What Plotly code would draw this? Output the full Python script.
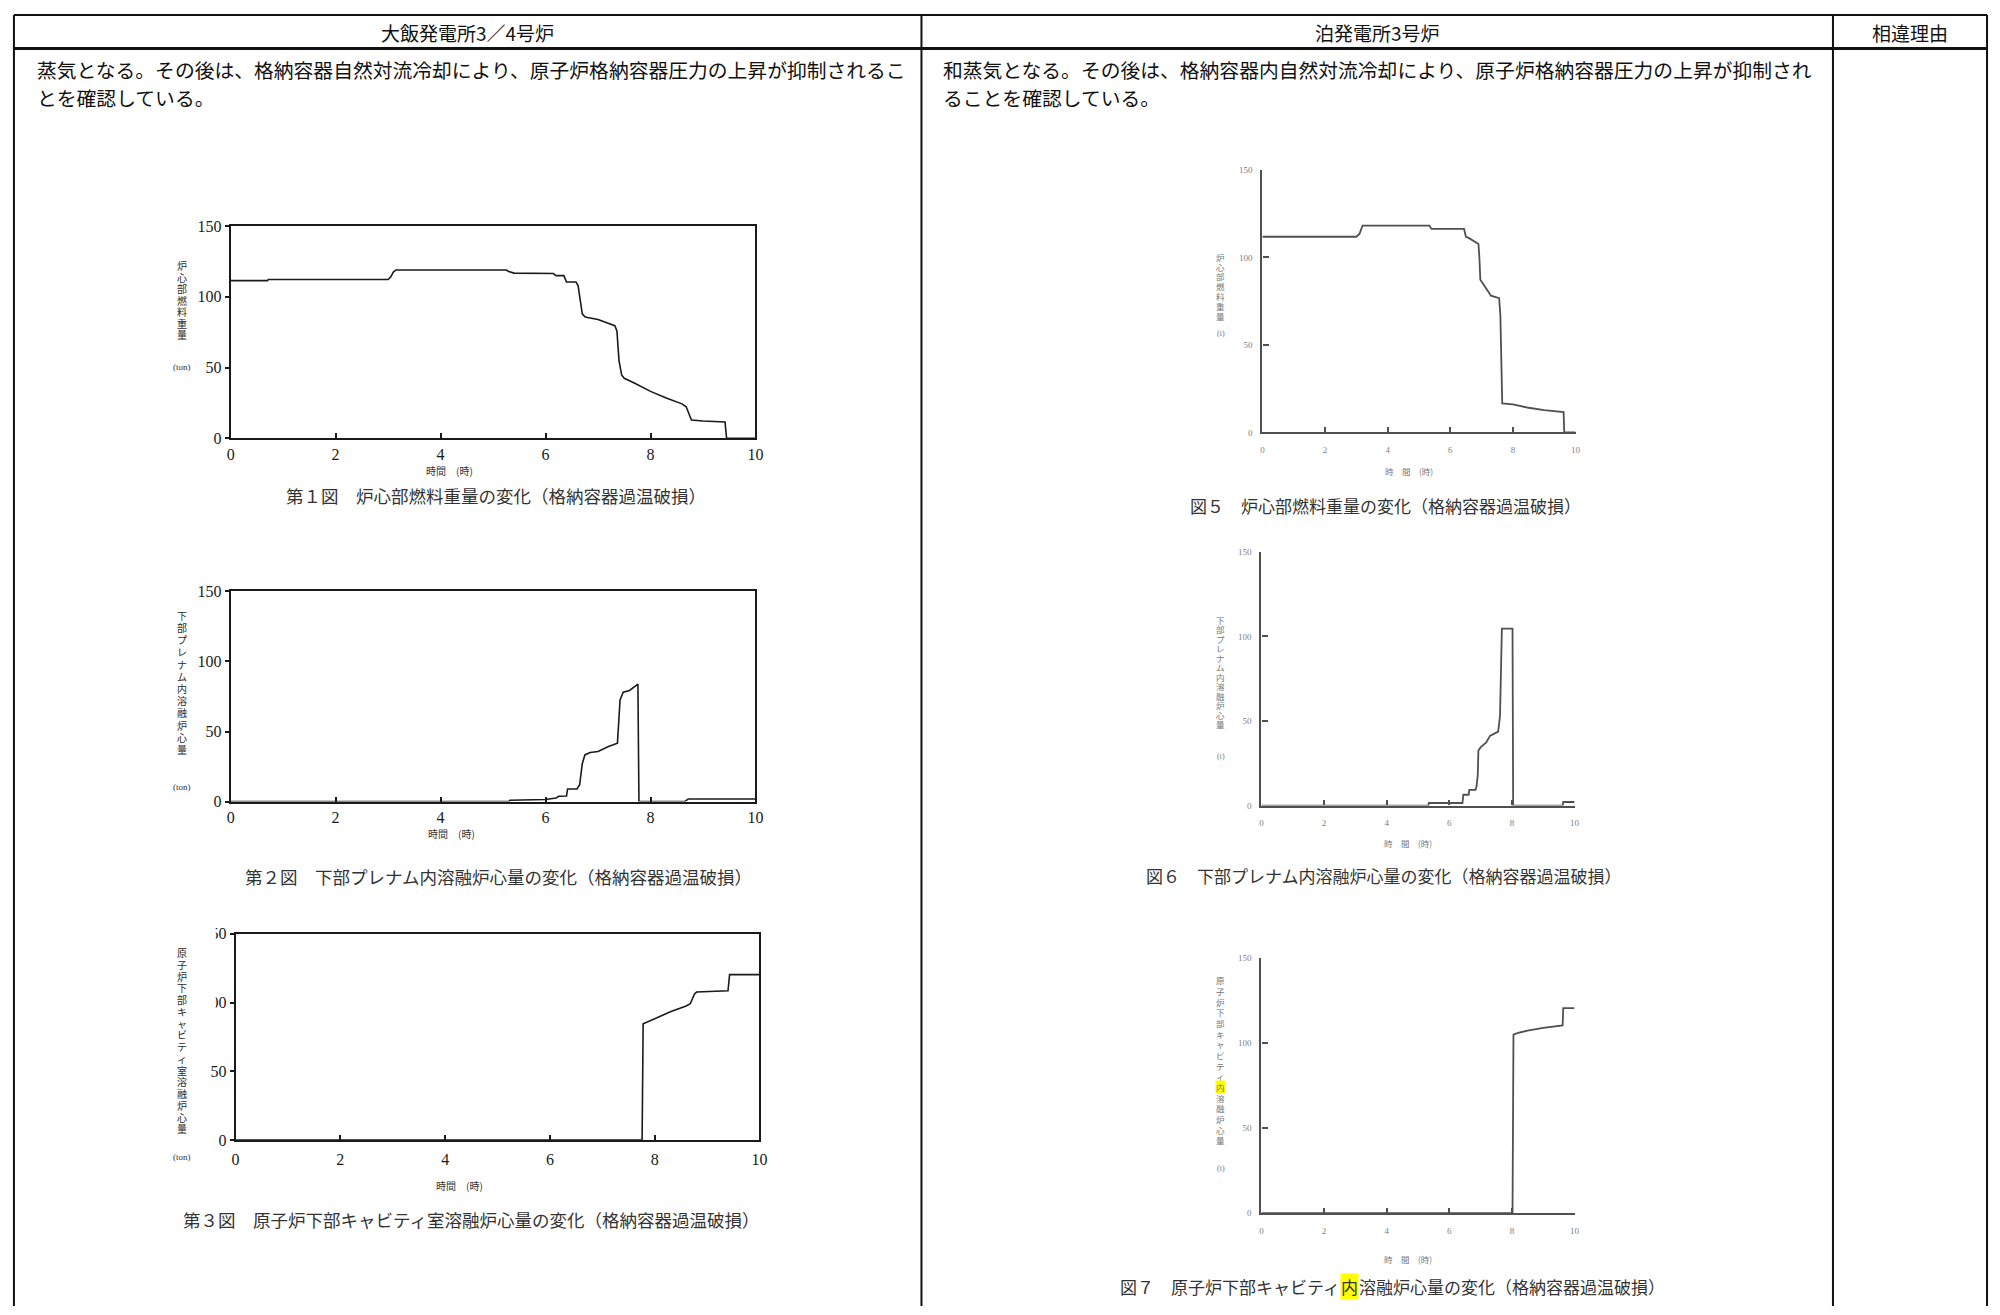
import plotly.graph_objects as go

W, H = 2000, 1315
JP = "Noto Sans CJK JP"
SERIF = "Liberation Serif"

# ---------------- data ----------------
# 大飯発電所3／4号炉  第1図 炉心部燃料重量 (ton)
ohi_core_t = [0, 0.7, 0.72, 3.0, 3.05, 3.1, 3.15, 5.25, 5.3, 5.4, 6.15, 6.2, 6.35, 6.4, 6.58,
              6.62, 6.66, 6.7, 6.75, 6.8, 7.0, 7.2, 7.32, 7.36, 7.4, 7.45, 7.5, 7.7, 8.0, 8.3,
              8.6, 8.68, 8.73, 8.78, 9.0, 9.42, 9.45, 10]
ohi_core_v = [111.5, 111.5, 112.3, 112.3, 114, 117.5, 119, 119, 118, 116.8, 116.5, 115, 115, 110.5,
              110.5, 108, 98, 88, 86, 85.4, 84, 81.3, 79.6, 76, 55, 44.8, 42.5, 39, 33.2, 28.6,
              24.4, 22.3, 17, 13, 12.3, 11.6, 0, 0]

# 第2図 下部プレナム内溶融炉心量 (ton)
ohi_plenum_t = [0, 5.3, 5.32, 6.0, 6.2, 6.25, 6.4, 6.42, 6.6, 6.65, 6.7, 6.75, 6.85, 7.0, 7.2,
                7.37, 7.42, 7.48, 7.6, 7.76, 7.78, 8.65, 8.72, 10]
ohi_plenum_v = [0, 0, 1, 1.5, 2.5, 3.8, 4, 9, 9, 12, 27, 33.3, 35, 35.7, 39.3,
                41.7, 72.6, 78, 79.3, 83.8, 0, 0, 1.9, 1.9]

# 第3図 原子炉下部キャビティ室溶融炉心量 (ton)
ohi_cavity_t = [0, 7.76, 7.78, 8.0, 8.3, 8.6, 8.68, 8.76, 8.8, 9.4, 9.43, 10]
ohi_cavity_v = [0, 0, 84.6, 88.2, 93.3, 97.6, 99.2, 106.3, 107.7, 108.6, 120.4, 120.4]

# 泊発電所3号炉  図5 炉心部燃料重量 (t)
tomari_core_t = [0, 3.0, 3.1, 3.2, 5.33, 5.4, 6.44, 6.5, 6.6, 6.7, 6.8, 6.9, 6.93, 6.96, 7.1,
                 7.2, 7.3, 7.56, 7.6, 7.66, 8.0, 8.5, 9.0, 9.62, 9.64, 10]
tomari_core_v = [111.8, 111.8, 113.4, 118.2, 118.2, 116.3, 116.3, 111.8, 111, 109.9, 109, 107.6,
                 99.9, 87.3, 83.5, 80.6, 78.1, 76.7, 67, 16.6, 16, 14.1, 12.7, 11.6, 0, 0]

# 図6 下部プレナム内溶融炉心量 (t)
tomari_plenum_t = [0, 5.33, 5.35, 6.42, 6.45, 6.62, 6.64, 6.84, 6.87, 6.91, 6.93, 7.0, 7.18,
                   7.3, 7.56, 7.62, 7.68, 8.02, 8.04, 9.62, 9.64, 10]
tomari_plenum_v = [0, 0, 1.5, 1.5, 6.4, 6.4, 9.3, 9.3, 11.2, 18, 32.5, 34.4, 37.3,
                   41.2, 43.7, 52.8, 104.6, 104.6, 0, 0, 2.1, 2.1]

# 図7 原子炉下部キャビティ内溶融炉心量 (t)
tomari_cavity_t = [0, 8.02, 8.05, 8.2, 8.5, 9.0, 9.62, 9.64, 10]
tomari_cavity_v = [0, 0, 104.8, 105.8, 107.1, 108.7, 110.2, 120.3, 120.3]

x_ticks = [0, 2, 4, 6, 8, 10]
y_ticks = [0, 50, 100, 150]

col_ohi = "大飯発電所3／4号炉"
col_tomari = "泊発電所3号炉"
col_reason = "相違理由"
body_left = ["蒸気となる。その後は、格納容器自然対流冷却により、原子炉格納容器圧力の上昇が抑制されるこ",
             "とを確認している。"]
body_right = ["和蒸気となる。その後は、格納容器内自然対流冷却により、原子炉格納容器圧力の上昇が抑制され",
              "ることを確認している。"]


def fx(px):
    return px / W


def fy(py):
    return 1 - py / H


fig = go.Figure()
annotations = []
shapes = []


def text(x, y, s, size, color="#222", family=JP, xanchor="center", yanchor="middle", bg=None):
    a = dict(x=fx(x), y=fy(y), xref="paper", yref="paper", text=s, showarrow=False,
             font=dict(family=family, size=size, color=color),
             xanchor=xanchor, yanchor=yanchor, borderpad=0)
    if bg:
        a["bgcolor"] = bg
    annotations.append(a)


def vtext(x, y_top, s, pitch, size, color, highlight=None):
    # one glyph per annotation so the column reads top-to-bottom
    for i, ch in enumerate(s):
        text(x, y_top + i * pitch, ch, size, color,
             bg="#ffff00" if (highlight is not None and i == highlight) else None)


# panel layout: (t, v, left, right, top, bottom, style, label gap)
panels = [
    (ohi_core_t, ohi_core_v, 228, 756, 221, 436, "ohi", 0),
    (ohi_plenum_t, ohi_plenum_v, 228, 756, 591, 804, "ohi", 0),
    (ohi_cavity_t, ohi_cavity_v, 233, 760, 938, 1147, "ohi", 4),
    (tomari_core_t, tomari_core_v, 1266, 1581, 164, 430, "tomari", 8),
    (tomari_plenum_t, tomari_plenum_v, 1265, 1580, 551, 808, "tomari", 8),
    (tomari_cavity_t, tomari_cavity_v, 1265, 1580, 962, 1221, "tomari", 8),
]

layout_axes = {}
for i, (t, v, x0, x1, y0, y1, style, gap) in enumerate(panels):
    n = "" if i == 0 else str(i + 1)
    ohi = style == "ohi"
    ink = "#1a1a1a" if ohi else "#505050"
    fig.add_trace(go.Scatter(x=t, y=v, mode="lines", xaxis="x" + n, yaxis="y" + n,
                             line=dict(color=ink, width=1.6 if ohi else 1.8),
                             showlegend=False, hoverinfo="skip"))
    tickfont = dict(family=SERIF, size=16 if ohi else 9, color="#1a1a1a" if ohi else "#808080")
    common = dict(showgrid=False, zeroline=False, showline=True, linecolor=ink,
                  linewidth=2 if ohi else 2.2, mirror=ohi, tickfont=tickfont,
                  tickcolor=ink, tickwidth=1.5)
    layout_axes["xaxis" + n] = dict(common, domain=[fx(x0), fx(x1)], range=[0, 10],
                                    tickvals=x_ticks, ticks="inside", ticklen=5,
                                    anchor="y" + n, ticklabelstandoff=gap)
    layout_axes["yaxis" + n] = dict(common, domain=[fy(y1), fy(y0)], range=[0, 150],
                                    tickvals=y_ticks, ticks="outside" if ohi else "inside",
                                    ticklen=4 if ohi else 6, anchor="x" + n,
                                    ticklabelstandoff=0 if ohi else 6)

# ---------- axis captions, unit marks and figure titles ----------
# 大飯 (left column)
vtext(179, 261, "炉心部燃料重量", 11.7, 10, "#2a2a2a")
text(179, 364, "(ton)", 9, "#333", family=SERIF)
text(448, 469, "時間　(時)", 10, "#333")
text(495, 494, "第１図　炉心部燃料重量の変化（格納容器過温破損）", 17.5, "#333")

vtext(179, 615, "下部プレナム内溶融炉心量", 12.4, 10, "#2a2a2a")
text(179, 789, "(ton)", 9, "#333", family=SERIF)
text(450, 836, "時間　(時)", 10, "#333")
text(497, 880, "第２図　下部プレナム内溶融炉心量の変化（格納容器過温破損）", 17.5, "#333")

vtext(179, 957, "原子炉下部キャビティ室溶融炉心量", 11.9, 10, "#2a2a2a")
text(179, 1164, "(ton)", 9, "#333", family=SERIF)
text(458, 1193, "時間　(時)", 10, "#333")
text(470, 1227, "第３図　原子炉下部キャビティ室溶融炉心量の変化（格納容器過温破損）", 17.5, "#333")

# 泊 (middle column)
vtext(1224, 252, "炉心部燃料重量", 10, 8.5, "#777")
text(1224, 330, "(t)", 8, "#777", family=SERIF)
text(1413, 469, "時　間　(時)", 8.5, "#777")
text(1390, 504, "図５　炉心部燃料重量の変化（格納容器過温破損）", 17, "#333")

vtext(1224, 620, "下部プレナム内溶融炉心量", 9.6, 8.5, "#777")
text(1224, 758, "(t)", 8, "#777", family=SERIF)
text(1412, 846, "時　間　(時)", 8.5, "#777")
text(1388, 879, "図６　下部プレナム内溶融炉心量の変化（格納容器過温破損）", 17, "#333")

vtext(1224, 985, "原子炉下部キャビティ内溶融炉心量", 10.8, 8.5, "#777", highlight=10)
text(1224, 1176, "(t)", 8, "#777", family=SERIF)
text(1412, 1267, "時　間　(時)", 8.5, "#777")
cap7_mark_x = 1354
text(cap7_mark_x - 8.5, 1295, "図７　原子炉下部キャビティ", 17, "#333", xanchor="right")
text(cap7_mark_x, 1295, "内", 17, "#333", bg="#ffff00")
text(cap7_mark_x + 8.5, 1295, "溶融炉心量の変化（格納容器過温破損）", 17, "#333", xanchor="left")

# mask the clipped leading digits of the upper tick labels on 第3図
for yv in (150, 100):
    py = 1147 - (1147 - 938) * yv / 150
    shapes.append(dict(type="rect", xref="paper", yref="paper", layer="above",
                       x0=fx(196), x1=fx(213), y0=fy(py + 10), y1=fy(py - 10),
                       fillcolor="white", line=dict(width=0)))

# ---------- table frame ----------
line_k = dict(color="#111", width=2)
top, head_bottom = 7, 41
col_edges = [10, 923, 1840, 1995]
shapes.append(dict(type="line", xref="paper", yref="paper", x0=fx(col_edges[0]), x1=fx(col_edges[-1]),
                   y0=fy(top), y1=fy(top), line=line_k))
shapes.append(dict(type="line", xref="paper", yref="paper", x0=fx(col_edges[0]), x1=fx(col_edges[-1]),
                   y0=fy(head_bottom), y1=fy(head_bottom), line=dict(color="#111", width=3)))
for cx in col_edges:
    shapes.append(dict(type="line", xref="paper", yref="paper", x0=fx(cx), x1=fx(cx),
                       y0=fy(top), y1=0, line=line_k))

text((col_edges[0] + col_edges[1]) / 2, 25, col_ohi, 19, "#111")
text((col_edges[1] + col_edges[2]) / 2, 25, col_tomari, 19, "#111")
text((col_edges[2] + col_edges[3]) / 2, 25, col_reason, 19, "#111")

for k, s in enumerate(body_left):
    text(32, 62 + 29 * k, s, 19.8, "#111", xanchor="left")
for k, s in enumerate(body_right):
    text(944, 62 + 29 * k, s, 19.8, "#111", xanchor="left")

fig.update_layout(
    width=W, height=H, margin=dict(l=0, r=0, t=0, b=0),
    paper_bgcolor="white", plot_bgcolor="white",
    annotations=annotations, shapes=shapes, **layout_axes,
)

fig.write_html("out.html")
